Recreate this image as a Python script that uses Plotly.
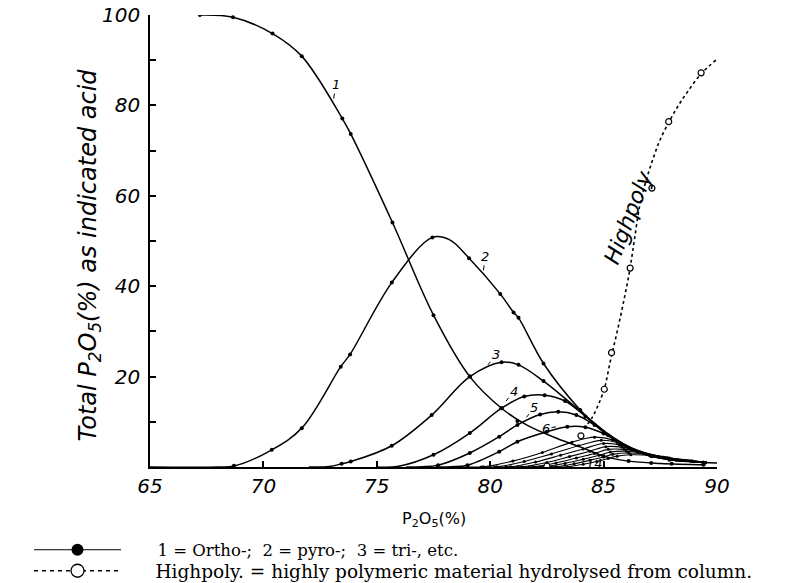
import plotly.graph_objects as go

# ---------------- data ----------------
# curve 1 (ortho)
C1_X = [67.2, 68.66, 70.4, 71.69, 73.48, 73.85, 75.69, 77.5, 79.1, 80.5, 81.6, 83.0, 84.0, 85.0, 86.1, 87.5, 89.5]
C1_Y = [100, 99.5, 95.9, 90.9, 77.1, 73.7, 54.1, 33.6, 20.0, 13.0, 9.3, 6.2, 4.4, 2.4, 1.3, 0.8, 0.5]
C1_DX = [67.2, 68.66, 70.4, 71.69, 73.48, 73.85, 75.69, 77.5, 79.1, 80.5, 81.2, 85.0, 86.1, 87.1, 88.0, 89.4]
C1_DY = [100, 99.5, 95.9, 90.9, 77.1, 73.7, 54.1, 33.6, 20.0, 13.0, 10.2, 2.4, 1.3, 0.9, 0.7, 0.5]

# curve 2 (pyro)
C2_X = [65, 68.0, 68.7, 70.37, 71.69, 73.41, 73.82, 75.66, 77.45, 78.2, 79.07, 80.44, 81.03, 81.25, 82.35, 83.97, 85.0, 86.1, 87.1, 87.9, 89.4, 90]
C2_Y = [0, 0, 0.2, 3.8, 8.6, 22.2, 24.9, 40.8, 50.8, 50.3, 46.2, 38.3, 34.2, 33.0, 22.9, 12.6, 7.7, 4.2, 2.4, 1.6, 1.0, 0.9]
C2_DX = [68.7, 70.37, 71.69, 73.41, 73.82, 75.66, 77.45, 79.07, 80.44, 81.03, 81.25, 82.35, 83.97, 85.2, 86.1, 87.1, 87.9, 89.4]
C2_DY = [0.3, 3.8, 8.6, 22.2, 24.9, 40.8, 50.8, 46.2, 38.3, 34.2, 33.0, 22.9, 12.6, 7.0, 4.2, 2.4, 1.6, 1.0]

# curve 3 (tri)
C3_X = [72.0, 72.9, 73.45, 73.85, 75.66, 77.42, 79.1, 80.5, 81.25, 82.35, 83.3, 84.2, 85.2, 86.2, 87.2, 88.2, 89.5]
C3_Y = [0, 0.1, 0.7, 1.2, 4.7, 11.5, 20.0, 23.2, 22.6, 19.0, 15.2, 11.4, 7.3, 4.1, 2.3, 1.5, 1.0]
C3_DX = [73.45, 73.85, 75.66, 77.42, 79.1, 80.5, 81.25, 82.35]
C3_DY = [0.7, 1.2, 4.7, 11.5, 20.0, 23.2, 22.6, 19.0]

# curve 4
C4_X = [75.0, 75.9, 77.5, 79.1, 80.5, 81.5, 82.4, 83.3, 84.2, 85.2, 86.2, 87.2, 88.2, 89.5]
C4_Y = [0, 0.1, 2.7, 7.5, 13.0, 15.6, 15.9, 14.6, 11.2, 7.2, 4.1, 2.3, 1.5, 1.0]
C4_DX = [77.5, 79.1, 80.5, 81.5, 82.4, 83.3, 84.2]
C4_DY = [2.7, 7.5, 13.0, 15.6, 15.9, 14.6, 11.2]

# curve 5
C5_X = [76.3, 77.0, 77.7, 79.1, 80.4, 81.2, 82.2, 83.0, 83.8, 84.6, 85.4, 86.3, 87.3, 88.3, 89.5]
C5_Y = [0, 0.05, 0.4, 3.1, 6.7, 9.3, 11.6, 12.2, 11.5, 9.3, 6.6, 4.0, 2.3, 1.5, 1.0]
C5_DX = [77.7, 79.1, 80.4, 81.2, 82.2, 83.0, 83.8, 84.6]
C5_DY = [0.4, 3.1, 6.7, 9.3, 11.6, 12.2, 11.5, 9.3]

# curve 6
C6_X = [77.6, 78.3, 79.0, 80.4, 81.2, 82.5, 83.4, 84.2, 85.0, 85.8, 86.6, 87.5, 88.5, 89.5]
C6_Y = [0, 0.05, 0.4, 3.4, 5.6, 7.8, 8.9, 8.8, 7.4, 5.2, 3.5, 2.3, 1.5, 1.0]
C6_DX = [79.0, 80.4, 81.2, 82.5, 83.4, 84.2, 85.0]
C6_DY = [0.4, 3.4, 5.6, 7.8, 8.9, 8.8, 7.4]

# curves 7 .. 14
C7_X = [79.0, 79.7, 81.0, 82.3, 83.6, 84.6, 85.4, 86.2, 87.2, 88.2, 89.5]
C7_Y = [0, 0.05, 1.3, 3.2, 5.5, 6.6, 6.0, 4.0, 2.4, 1.5, 1.0]
C8_X = [79.6, 80.3, 81.5, 82.7, 83.9, 84.9, 85.6, 86.4, 87.3, 88.3, 89.5]
C8_Y = [0, 0.05, 1.2, 2.9, 4.7, 5.9, 5.4, 3.7, 2.3, 1.5, 1.0]
C9_X = [80.2, 80.9, 82.0, 83.1, 84.1, 85.0, 85.7, 86.5, 87.4, 88.4, 89.5]
C9_Y = [0, 0.05, 1.1, 2.6, 4.0, 5.2, 4.9, 3.5, 2.3, 1.5, 1.0]
C10_X = [80.7, 81.4, 82.5, 83.5, 84.4, 85.1, 85.8, 86.6, 87.5, 88.5, 89.5]
C10_Y = [0, 0.05, 1.0, 2.3, 3.5, 4.5, 4.4, 3.4, 2.2, 1.5, 1.0]
C11_X = [81.2, 81.9, 82.9, 83.8, 84.6, 85.2, 85.9, 86.7, 87.6, 88.6, 89.5]
C11_Y = [0, 0.05, 0.9, 2.0, 3.0, 3.9, 3.9, 3.2, 2.2, 1.4, 1.0]
C12_X = [81.7, 82.4, 83.3, 84.1, 84.8, 85.3, 86.0, 86.8, 87.7, 88.7, 89.5]
C12_Y = [0, 0.05, 0.8, 1.7, 2.6, 3.3, 3.5, 3.0, 2.1, 1.4, 1.0]
C13_X = [82.2, 82.9, 83.7, 84.4, 85.0, 85.4, 86.1, 86.9, 87.8, 88.8, 89.5]
C13_Y = [0, 0.05, 0.7, 1.5, 2.2, 2.8, 3.1, 2.8, 2.1, 1.4, 1.0]
C14_X = [82.7, 83.4, 84.1, 84.7, 85.2, 85.6, 86.2, 87.0, 87.9, 88.9, 89.5]
C14_Y = [0, 0.05, 0.6, 1.2, 1.9, 2.4, 2.7, 2.6, 2.0, 1.4, 1.0]

# highpoly (dashed)
HP_X = [84.3, 84.5, 84.7, 84.9, 85.05, 85.3, 85.6, 85.9, 86.15, 86.35, 86.6, 86.9, 87.2, 87.5, 87.9, 88.3, 88.7, 89.3, 90.0]
HP_Y = [9.5, 11.0, 13.0, 15.4, 17.6, 23.5, 30.0, 37.0, 43.5, 50.0, 58.0, 63.8, 68.5, 72.5, 76.5, 80.0, 83.0, 87.0, 90.2]
HP_DX = [82.5, 84.0, 85.03, 85.35, 86.17, 87.13, 87.87, 89.3]
HP_DY = [0.2, 6.9, 17.2, 25.3, 44.0, 61.7, 76.4, 87.2]

X_TICKS = [65, 70, 75, 80, 85, 90]
Y_TICKS = [20, 40, 60, 80, 100]
Y_MINOR = [10, 30, 50, 70, 90]

LEG1 = "\u00a0" * 6 + "1 = Ortho-;  2 = pyro-;  3 = tri-, etc."
LEG2 = "\u00a0" * 5 + "Highpoly. = highly polymeric material hydrolysed from column."

# ---------------- figure ----------------
fig = go.Figure()
LW = 1.5
DOT = dict(color="black", size=4)

main_curves = [(C1_X, C1_Y), (C2_X, C2_Y), (C3_X, C3_Y), (C4_X, C4_Y), (C5_X, C5_Y), (C6_X, C6_Y)]
main_dots = [(C1_DX, C1_DY), (C2_DX, C2_DY), (C3_DX, C3_DY), (C4_DX, C4_DY), (C5_DX, C5_DY), (C6_DX, C6_DY)]
for (cx, cy) in main_curves:
    fig.add_trace(go.Scatter(x=cx, y=cy, mode="lines", line=dict(color="black", width=LW, shape="spline", smoothing=1.0),
                             showlegend=False, hoverinfo="skip"))
for (dx, dy) in main_dots:
    fig.add_trace(go.Scatter(x=dx, y=dy, mode="markers", marker=DOT, showlegend=False, hoverinfo="skip"))

small_curves = [(C7_X, C7_Y), (C8_X, C8_Y), (C9_X, C9_Y), (C10_X, C10_Y), (C11_X, C11_Y),
                (C12_X, C12_Y), (C13_X, C13_Y), (C14_X, C14_Y)]
for (cx, cy) in small_curves:
    fig.add_trace(go.Scatter(x=cx, y=cy, mode="lines+markers", line=dict(color="black", width=1.1, shape="spline", smoothing=1.0),
                             marker=dict(color="black", size=3), showlegend=False, hoverinfo="skip"))

fig.add_trace(go.Scatter(x=HP_X, y=HP_Y, mode="lines", line=dict(color="black", width=1.6, dash="3px,3px", shape="spline"),
                         showlegend=False, hoverinfo="skip"))
fig.add_trace(go.Scatter(x=HP_DX, y=HP_DY, mode="markers",
                         marker=dict(size=6, color="white", line=dict(color="black", width=1.2)),
                         showlegend=False, hoverinfo="skip"))

# legend entries (two independent legends so their spacing can be set)
fig.add_trace(go.Scatter(x=[None], y=[None], mode="lines+markers", name=LEG1, legend="legend",
                         line=dict(color="black", width=1), marker=dict(size=12, color="black")))
fig.add_trace(go.Scatter(x=[None], y=[None], mode="lines+markers", name=LEG2, legend="legend2",
                         line=dict(color="black", width=1.3, dash="4px,4px"),
                         marker=dict(size=13, color="white", line=dict(color="black", width=1.3))))

AX_FONT = dict(family="DejaVu Sans", size=20, color="black", style="italic")
fig.update_xaxes(range=[65, 90], tickvals=X_TICKS, ticks="inside", ticklen=6, tickwidth=1.5, tickcolor="black",
                 showline=True, linecolor="black", linewidth=1.5, showgrid=False, zeroline=False,
                 tickfont=AX_FONT)
fig.update_yaxes(range=[0, 100], tickvals=Y_TICKS, ticks="inside", ticklen=6, tickwidth=1.5,
                 tickcolor="black", showline=True, linecolor="black", linewidth=1.5, showgrid=False, zeroline=False,
                 tickfont=AX_FONT, ticklabelstandoff=4,
                 minor=dict(tickvals=Y_MINOR, ticks="inside", ticklen=6, tickwidth=1.5, tickcolor="black", showgrid=False))

LBL = dict(family="DejaVu Sans", size=13, color="black", style="italic")
labels = [("1", 73.1, 81.5, 2, -14), ("2", 79.7, 43.5, 2, -14), ("3", 79.9, 22.6, 8, -10),
          ("4", 80.7, 14.6, 8, -10), ("5", 81.6, 11.0, 8, -10), ("6", 82.9, 8.9, -10, 2),
          ("14", 84.26, 1.9, 8, 5)]
for t, x, y, ax, ay in labels:
    fig.add_annotation(x=x, y=y, text=t, showarrow=True, ax=ax, ay=ay, arrowhead=0, arrowwidth=1,
                       arrowcolor="black", font=LBL, standoff=0)

fig.add_annotation(x=86.1, y=55.1, text="Highpoly", showarrow=False, textangle=-69,
                   xanchor="center", yanchor="middle",
                   font=dict(family="DejaVu Sans", size=22, color="black", style="italic"))

fig.add_annotation(xref="paper", yref="paper", x=-0.106, y=0.47, xanchor="center", yanchor="middle",
                   text="Total P<sub>2</sub>O<sub>5</sub>(%) as indicated acid",
                   textangle=-90, showarrow=False, font=dict(family="DejaVu Sans", size=24, color="black", style="italic"))
fig.add_annotation(xref="paper", yref="paper", x=0.5, y=-0.117, xanchor="center", yanchor="middle",
                   text="P<sub>2</sub>O<sub>5</sub>(%)",
                   showarrow=False, font=dict(family="DejaVu Sans", size=16, color="black"))

fig.update_layout(
    width=793, height=583,
    margin=dict(l=150, r=76, t=15, b=116, autoexpand=False),
    paper_bgcolor="white", plot_bgcolor="white",
    showlegend=True,
    legend=dict(x=-0.2134, y=-0.145, xanchor="left", yanchor="top", itemwidth=87,
                font=dict(family="DejaVu Serif", size=16.5, color="black"),
                bgcolor="rgba(0,0,0,0)", itemsizing="trace"),
    legend2=dict(x=-0.2134, y=-0.1885, xanchor="left", yanchor="top", itemwidth=87,
                 font=dict(family="DejaVu Serif", size=18.5, color="black"),
                 bgcolor="rgba(0,0,0,0)", itemsizing="trace"),
)

fig.write_html("out.html", config={"displayModeBar": False},
               post_script="document.body.style.margin='0px';document.body.style.overflow='hidden';")
